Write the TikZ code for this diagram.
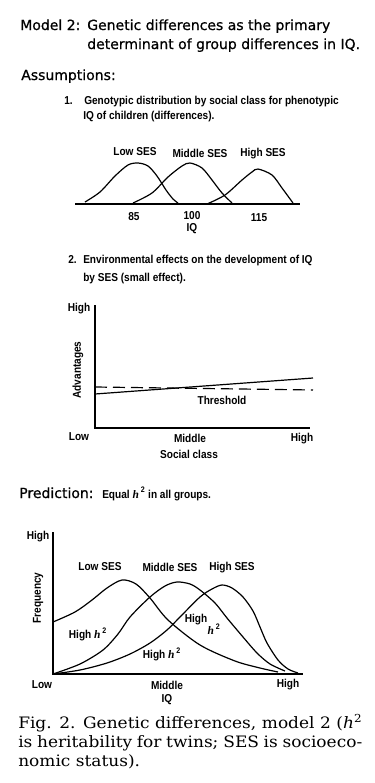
\documentclass[tikz,border=0pt]{standalone}
\usepackage{fontspec}
\setmainfont{DejaVu Sans}
\newfontfamily\headfont[FakeBold=0.7]{DejaVu Sans}
\newfontfamily\lblfont[FakeStretch=0.88]{Liberation Sans}
\newfontfamily\capfont[FakeStretch=1.08]{DejaVu Serif}
\newfontfamily\hfont{Liberation Serif}
\usepackage{tikz}

\newcommand{\hsq}{{\hfont\bfseries\itshape h}\,\textsuperscript{2}}

\begin{document}
\begin{tikzpicture}[x=0.75pt,y=-0.75pt,
	head/.style={font=\headfont\fontsize{10.5}{12}\selectfont, inner sep=0pt},
	lbl/.style={font=\lblfont\bfseries\fontsize{8.6}{10}\selectfont, inner sep=0pt},
	captext/.style={font=\capfont\fontsize{11.8}{14}\selectfont, inner sep=0pt, anchor=base west},
	axis/.style={line width=1.1pt},
	curve/.style={line width=0.9pt}]
	\useasboundingbox (0,0) rectangle (375,783);
	% heading
	\node[head, anchor=base west] (model) at (20,30) {Model 2:};
	\node[head, anchor=base west] (modela) at (87,30) {Genetic differences as the primary};
	\node[head, anchor=base west] (modelb) at (87,49) {determinant of group differences in IQ.};
	\node[head, anchor=base west] (assump) at (21,80) {Assumptions:};
	\node[lbl, anchor=base west] (itemone) at (64,104) {1.};
	\node[lbl, anchor=base west] (itemonea) at (84,104) {Genotypic distribution by social class for phenotypic};
	\node[lbl, anchor=base west] (itemoneb) at (83,119) {IQ of children (differences).};
	% genotypic distributions
	\draw[axis] (75,204) -- (300,204);
	\draw[curve] plot[smooth] coordinates {(85,202) (100,192) (115,176) (128,165) (138,163) (148,166) (157,176) (166,190) (173,199) (178,203)};
	\draw[curve] plot[smooth] coordinates {(133,203) (152,193) (168,177) (182,166) (190,163) (202,168) (212,180) (222,193) (232,203)};
	\draw[curve] plot[smooth] coordinates {(207,204) (225,195) (242,180) (252,172) (258,169) (272,175) (282,188) (293,203)};
	\node[lbl] (lowses) at (135,152) {Low SES};
	\node[lbl] (midses) at (200,153) {Middle SES};
	\node[lbl] (highses) at (263,154) {High SES};
	\node[lbl] (iqlow) at (134,217) {85};
	\node[lbl] (iqmid) at (192,216) {100};
	\node[lbl] (iqhigh) at (259,218) {115};
	\node[lbl] (iqa) at (192,229) {IQ};
	% environmental effects
	\node[lbl, anchor=base west] (itemtwo) at (68,263) {2.};
	\node[lbl, anchor=base west] (itemtwoa) at (83,263) {Environmental effects on the development of IQ};
	\node[lbl, anchor=base west] (itemtwob) at (83,281) {by SES (small effect).};
	\draw[axis] (95,305) -- (95,428) -- (310,428);
	\draw[curve] (95,394) -- (313,378);
	\draw[curve, dash pattern=on 9pt off 4.5pt] (95,387) -- (313,390);
	\node[lbl] (advhigh) at (79,309) {High};
	\node[lbl, rotate=90] (adv) at (78,370) {Advantages};
	\node[lbl] (thresh) at (222,400) {Threshold};
	\node[lbl] (sclow) at (79,437) {Low};
	\node[lbl] (scmid) at (190,438) {Middle};
	\node[lbl] (schigh) at (302,439) {High};
	\node[lbl] (sclass) at (189,454) {Social class};
	% prediction
	\node[head, anchor=base west] (pred) at (19,498) {Prediction:};
	\node[lbl, anchor=base west] (preda) at (102,498) {Equal \hsq{} in all groups.};
	\draw[axis] (53,532) -- (53,674) -- (303,674);
	\draw[curve] plot[smooth] coordinates {(53,622) (75,612) (92,600) (107,588) (122,580) (136,584) (150,598) (168,620) (200,645) (235,661) (260,668) (278,672)};
	\draw[curve] plot[smooth] coordinates {(53,674) (80,664) (103,650) (118,634) (130,617) (150,597) (165,586) (177,582) (190,584) (200,590) (215,603) (227,618) (243,637) (257,653) (270,664) (285,671)};
	\draw[curve] plot[smooth] coordinates {(53,674) (80,670) (107,663) (130,654) (150,643) (167,630) (180,617) (200,597) (212,589) (222,585) (232,588) (243,597) (253,611) (260,627) (267,643) (278,660) (288,669) (298,673)};
	\node[lbl] (freqhigh) at (38,537) {High};
	\node[lbl, rotate=90] (freq) at (38,598) {Frequency};
	\node[lbl] (flow) at (100,567) {Low SES};
	\node[lbl] (fmid) at (170,567) {Middle SES};
	\node[lbl] (fhigh) at (232,568) {High SES};
	\node[lbl] (hleft) at (88,634) {High \hsq};
	\node[lbl] (hbottom) at (162,654) {High \hsq};
	\node[lbl] (hright) at (196,620) {High};
	\node[lbl] (hrighth) at (214,629) {{\hfont\bfseries\itshape h}\,\textsuperscript{2}};
	\node[lbl] (qlow) at (42,685) {Low};
	\node[lbl] (qmid) at (167,685) {Middle};
	\node[lbl] (qhigh) at (288,685) {High};
	\node[lbl] (qiq) at (167,700) {IQ};
	% caption
	\node[captext] (capa) at (18,728) {\makebox[258pt][s]{Fig. 2. Genetic differences, model 2 (\textit{h}\textsuperscript{2}}};
	\node[captext] (capb) at (18,747) {\makebox[258pt][s]{is heritability for twins; SES is socioeco-}};
	\node[captext] (capc) at (18,766) {nomic status).};
\end{tikzpicture}
\end{document}
